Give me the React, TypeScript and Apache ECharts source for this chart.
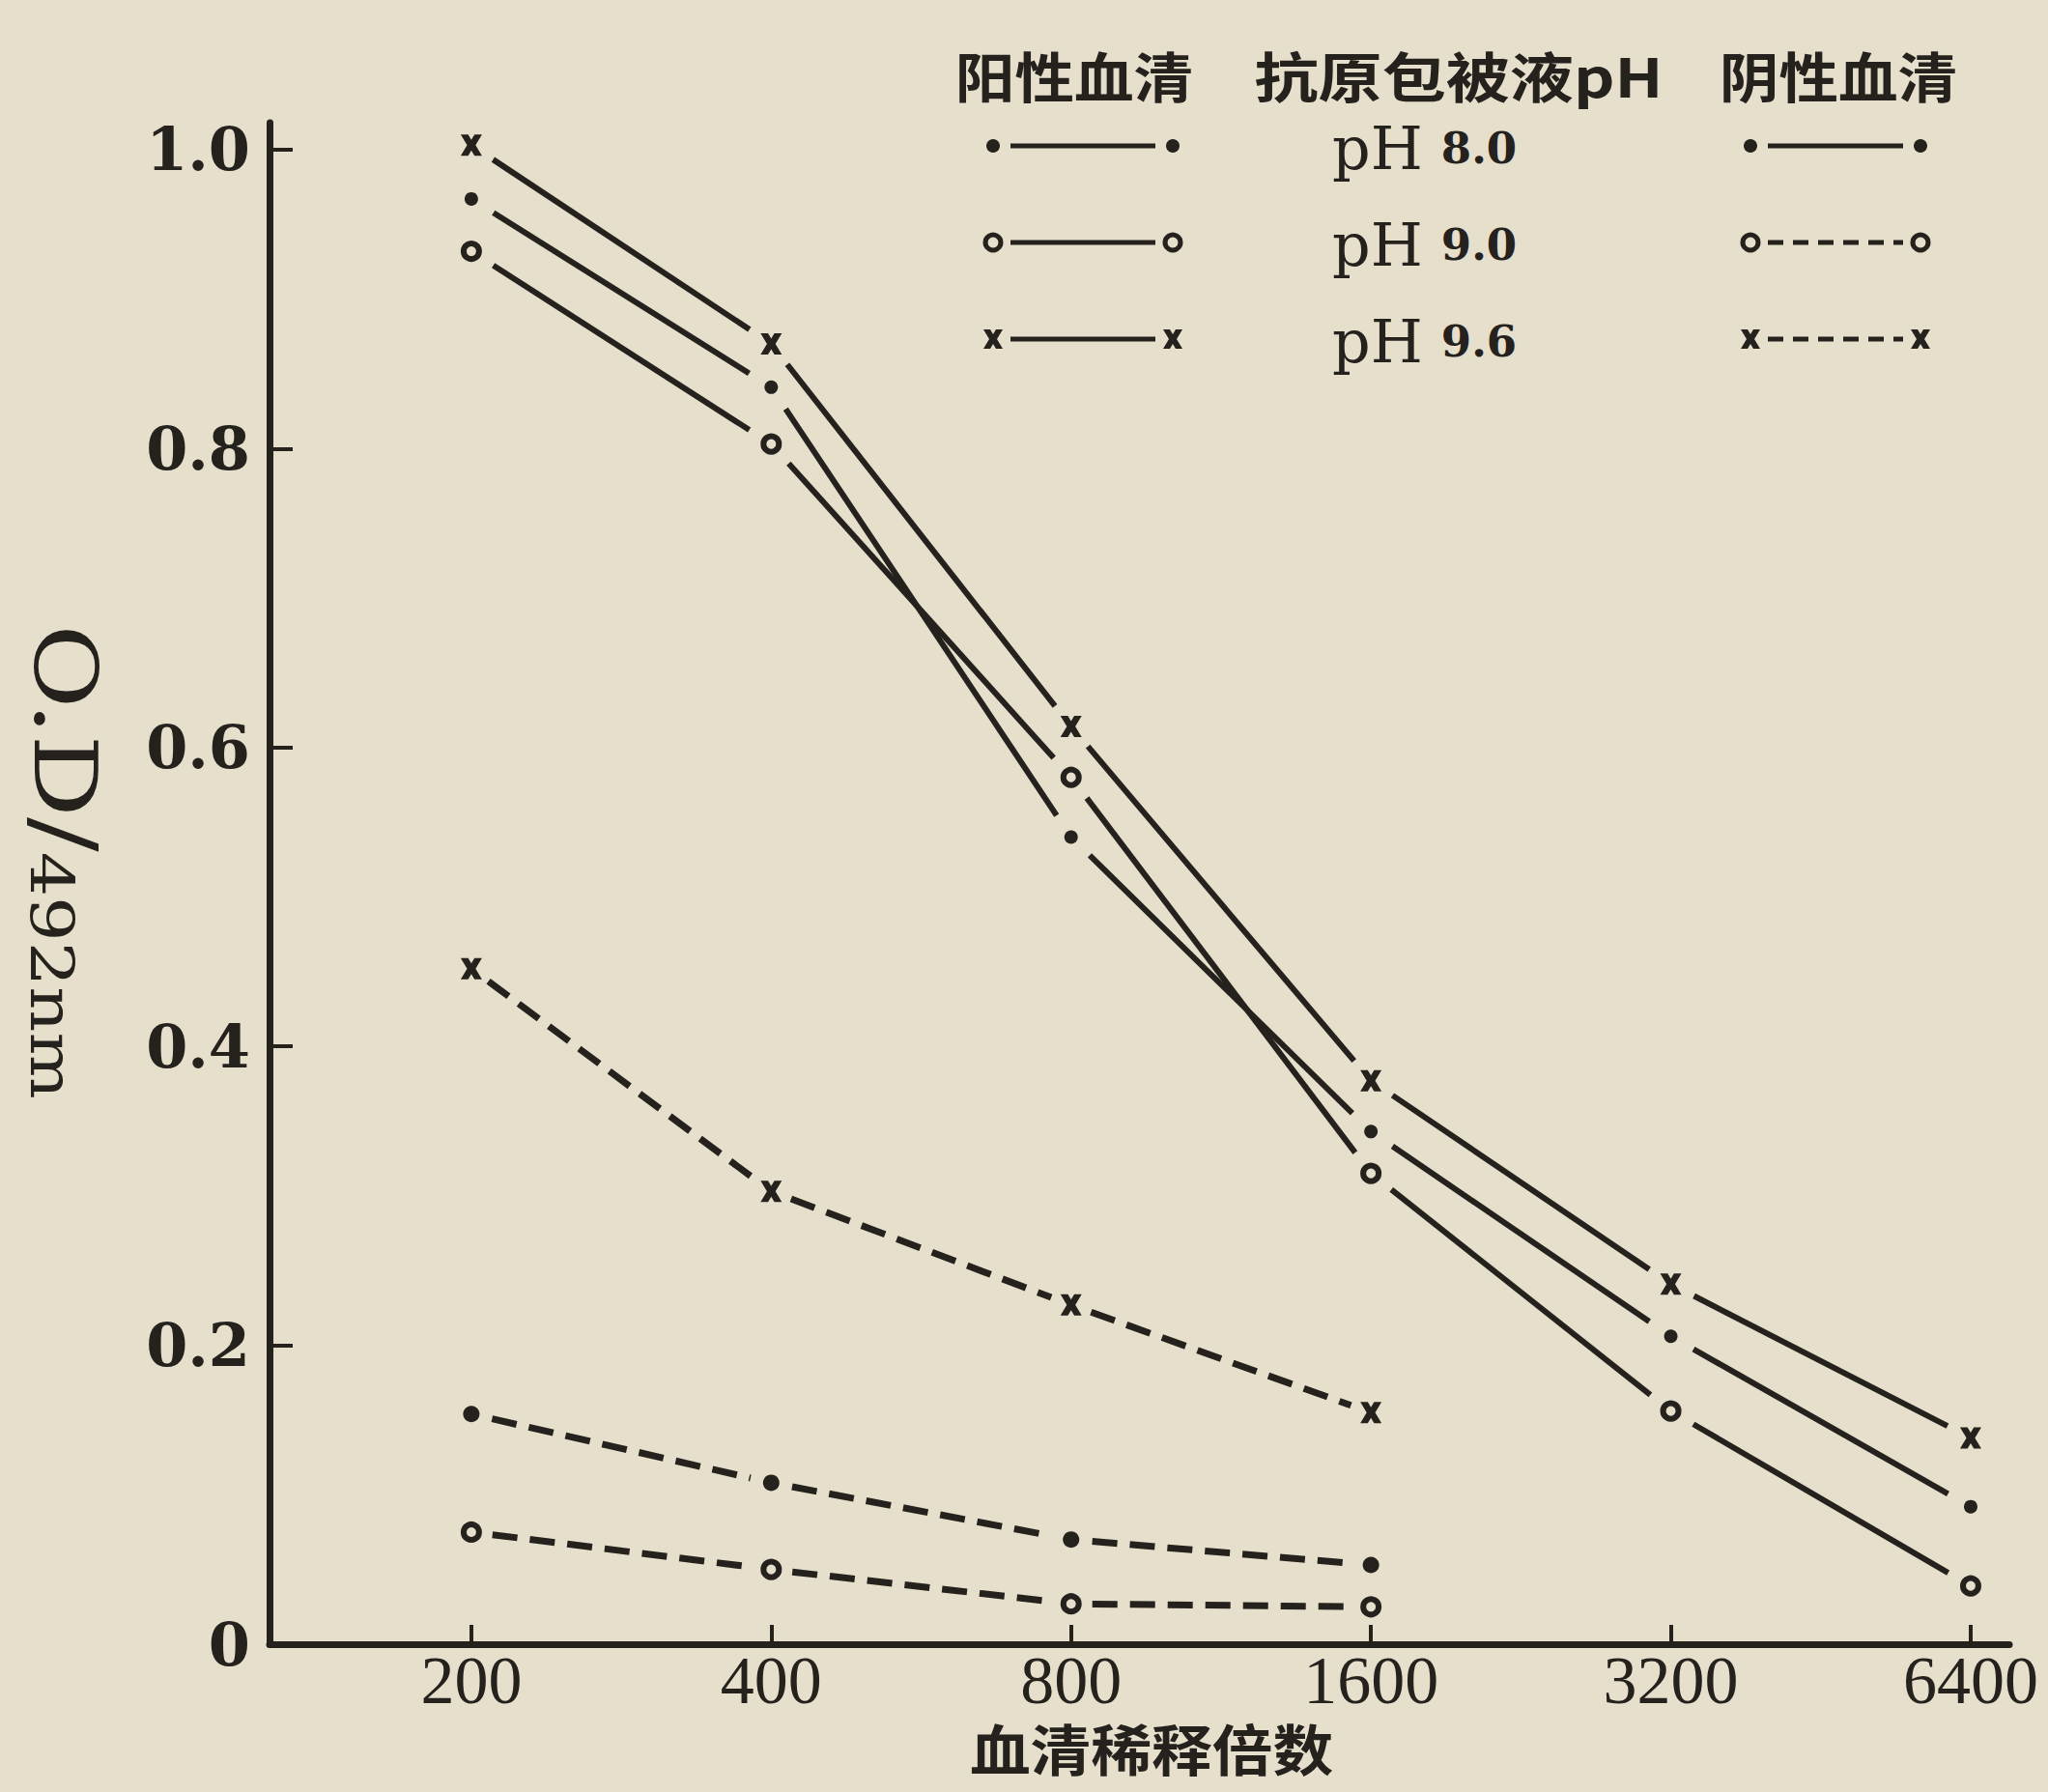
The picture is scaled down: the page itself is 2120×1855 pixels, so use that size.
import React, { useEffect, useRef } from 'react';
import * as echarts from 'echarts';

// ---------- data ----------
const dilutions = ['200', '400', '800', '1600', '3200', '6400'];
const positivePH80 = [0.967, 0.841, 0.54, 0.343, 0.206, 0.092];
const positivePH90 = [0.932, 0.803, 0.58, 0.315, 0.156, 0.039];
const positivePH96 = [1.003, 0.87, 0.614, 0.377, 0.241, 0.138];
const negativePH80 = [0.154, 0.108, 0.07, 0.053];
const negativePH90 = [0.075, 0.05, 0.027, 0.025];
const negativePH96 = [0.452, 0.303, 0.227, 0.155];
const yTickValues = [0, 0.2, 0.4, 0.6, 0.8, 1.0];
const headerTexts = ['阳性血清', '抗原包被液pH', '阴性血清'];
const phLabel = 'pH';
const phValues = ['8.0', '9.0', '9.6'];
const xTitle = '血清稀释倍数';
const yTitleMain = 'O.D/';
const yTitleSub = '492nm';

// ---------- styles ----------
const BG = '#e5dfcc';
const INK = '#25211d';
const XPATH = 'M0,0 L7,0 L10,5 L13,0 L20,0 L14,10 L20,20 L13,20 L10,15 L7,20 L0,20 L6,10 Z';
const GAP_SOLID = 27; // clear distance between a marker centre and a solid line
const GAP_DASHED = 22;

echarts.graphic.registerShape('xmark', echarts.graphic.extendPath(XPATH, {}));

type Marker = 'dot' | 'ring' | 'cross';
const curves: { name: string; values: number[]; marker: Marker; dashed: boolean }[] = [
  { name: '阳性血清 pH 8.0', values: positivePH80, marker: 'dot', dashed: false },
  { name: '阳性血清 pH 9.0', values: positivePH90, marker: 'ring', dashed: false },
  { name: '阳性血清 pH 9.6', values: positivePH96, marker: 'cross', dashed: false },
  { name: '阴性血清 pH 8.0', values: negativePH80, marker: 'dot', dashed: true },
  { name: '阴性血清 pH 9.0', values: negativePH90, marker: 'ring', dashed: true },
  { name: '阴性血清 pH 9.6', values: negativePH96, marker: 'cross', dashed: true },
];

// legend layout
const rowY = [151, 251, 351];
const legendLeft = [1028, 1214];
const legendRight = [1812, 1988];

function markerShape(m: Marker, cx: number, cy: number, big: boolean, dashed: boolean): any {
  if (m === 'dot')
    return { type: 'circle', shape: { cx, cy, r: big ? (dashed ? 8.5 : 7) : 7 }, style: { fill: INK } };
  if (m === 'ring')
    return {
      type: 'circle',
      shape: { cx, cy, r: 8 },
      style: { fill: BG, stroke: INK, lineWidth: big ? 6 : 5 },
    };
  const s = big ? 1.1 : 1;
  return { type: 'xmark', x: cx - 10 * s, y: cy - 10 * s, scaleX: s, scaleY: s, style: { fill: INK } };
}

function legendSample(m: Marker, ends: number[], cy: number, dashed: boolean): any[] {
  return [
    {
      type: 'line',
      shape: { x1: ends[0] + 18, y1: cy, x2: ends[1] - 18, y2: cy },
      style: { stroke: INK, lineWidth: 5, lineDash: dashed ? [16, 10] : null },
    },
    markerShape(m, ends[0], cy, false, false),
    markerShape(m, ends[1], cy, false, false),
  ];
}

// each data item draws its marker and the segment to the next point,
// positioned through the grid's coordinate system (api.coord)
function makeRenderer(c: (typeof curves)[number]) {
  const gap = c.dashed ? GAP_DASHED : GAP_SOLID;
  return (params: any, api: any) => {
    const i = api.value(0);
    const p = api.coord([i, api.value(1)]);
    const children: any[] = [];
    if (i + 1 < c.values.length) {
      const q = api.coord([i + 1, c.values[i + 1]]);
      const dx = q[0] - p[0];
      const dy = q[1] - p[1];
      const len = Math.sqrt(dx * dx + dy * dy);
      const ux = dx / len;
      const uy = dy / len;
      children.push({
        type: 'line',
        shape: {
          x1: p[0] + ux * gap,
          y1: p[1] + uy * gap,
          x2: q[0] - ux * gap,
          y2: q[1] - uy * gap,
        },
        style: {
          stroke: INK,
          lineWidth: c.dashed ? 7 : 6,
          lineDash: c.dashed ? [26, 13] : null,
          lineCap: 'butt',
          fill: null,
        },
      });
    }
    children.push(markerShape(c.marker, p[0], p[1], true, c.dashed));
    return { type: 'group', children };
  };
}

export default function App() {
  const ref = useRef<HTMLDivElement>(null);

  useEffect(() => {
    if (!ref.current) return;
    const chart = echarts.init(ref.current, null, { renderer: 'svg' });

    const series = curves.map((c) => ({
      type: 'custom',
      name: c.name,
      data: c.values.map((v, i) => [i, v]),
      silent: true,
      clip: false,
      z: 3,
      renderItem: makeRenderer(c),
    }));

    const headerX = [1112, 1510, 1903];
    const headerScale = [1.1, 1.18, 1.1];
    const graphics: any[] = [];
    headerTexts.forEach((t, i) => {
      graphics.push({
        type: 'text',
        x: headerX[i],
        y: 77,
        scaleX: headerScale[i],
        style: {
          text: t,
          fill: INK,
          font: 'bold 56px "Noto Sans CJK SC", sans-serif',
          textAlign: 'center',
          textVerticalAlign: 'middle',
          align: 'center',
          verticalAlign: 'middle',
        },
      });
    });
    const legendMarkers: Marker[] = ['dot', 'ring', 'cross'];
    legendMarkers.forEach((m, i) => {
      graphics.push(...legendSample(m, legendLeft, rowY[i], false));
      graphics.push(...legendSample(m, legendRight, rowY[i], i > 0));
      graphics.push({
        type: 'text',
        x: 1379,
        y: rowY[i] + 2,
        style: {
          text: `{a|${phLabel}} {b|${phValues[i]}}`,
          fill: INK,
          font: '60px "DejaVu Serif", serif',
          textAlign: 'left',
          textVerticalAlign: 'middle',
          align: 'left',
          verticalAlign: 'middle',
          rich: {
            a: { fontSize: 62, fontFamily: 'DejaVu Serif', fill: INK, verticalAlign: 'middle', lineHeight: 64 },
            b: {
              fontSize: 45,
              fontFamily: 'DejaVu Serif',
              fontWeight: 'bold',
              fill: INK,
              verticalAlign: 'middle',
              lineHeight: 64,
            },
          },
        },
      });
    });
    graphics.push({
      type: 'text',
      x: 1192,
      y: 1808,
      scaleX: 1.1,
      style: {
        text: xTitle,
        fill: INK,
        font: 'bold 57px "Noto Sans CJK SC", sans-serif',
        textAlign: 'center',
        textVerticalAlign: 'middle',
        align: 'center',
        verticalAlign: 'middle',
      },
    });
    graphics.push({
      type: 'text',
      x: 68,
      y: 892,
      rotation: -Math.PI / 2,
      scaleX: 1.18,
      style: {
        text: `{a|${yTitleMain}}{b|${yTitleSub}}`,
        fill: INK,
        font: '62px "DejaVu Serif", serif',
        textAlign: 'center',
        textVerticalAlign: 'middle',
        align: 'center',
        verticalAlign: 'middle',
        rich: {
          a: { fontSize: 90, fontFamily: 'DejaVu Serif', fill: INK, verticalAlign: 'bottom', lineHeight: 92 },
          b: { fontSize: 62, fontFamily: 'DejaVu Serif', fill: INK, verticalAlign: 'bottom', lineHeight: 76 },
        },
      },
    });

    chart.setOption({
      animation: false,
      backgroundColor: BG,
      grid: { left: 279, right: 40, top: 127, bottom: 153, containLabel: false, outerBoundsMode: 'none' },
      xAxis: {
        type: 'value',
        min: -0.673,
        max: 5.129,
        z: 20,
        splitLine: { show: false },
        axisLine: { show: true, onZero: false, lineStyle: { color: INK, width: 7 } },
        axisTick: {
          show: true,
          inside: true,
          length: 20,
          customValues: dilutions.map((_, i) => i),
          lineStyle: { color: INK, width: 4 },
        },
        axisLabel: {
          customValues: dilutions.map((_, i) => i),
          formatter: (v: number) => dilutions[Math.round(v)] ?? '',
          color: INK,
          fontSize: 70,
          fontFamily: '"Liberation Serif", serif',
          margin: 2,
        },
      },
      yAxis: {
        type: 'value',
        min: 0,
        max: 1.018,
        z: 20,
        splitLine: { show: false },
        axisLine: { show: true, onZero: false, lineStyle: { color: INK, width: 7 } },
        axisTick: {
          show: true,
          inside: true,
          length: 24,
          customValues: yTickValues,
          lineStyle: { color: INK, width: 4 },
        },
        axisLabel: {
          customValues: yTickValues,
          formatter: (v: number) => (v === 0 ? '0' : v.toFixed(1)),
          color: INK,
          fontSize: 62,
          fontWeight: 'bold',
          fontFamily: '"DejaVu Serif", serif',
          margin: 20,
        },
      },
      graphic: graphics,
      series,
    } as any);

    return () => chart.dispose();
  }, []);

  return (
    <div
      ref={ref}
      style={{ position: 'absolute', left: 0, top: 0, width: 2120, height: 1855, background: BG }}
    />
  );
}
